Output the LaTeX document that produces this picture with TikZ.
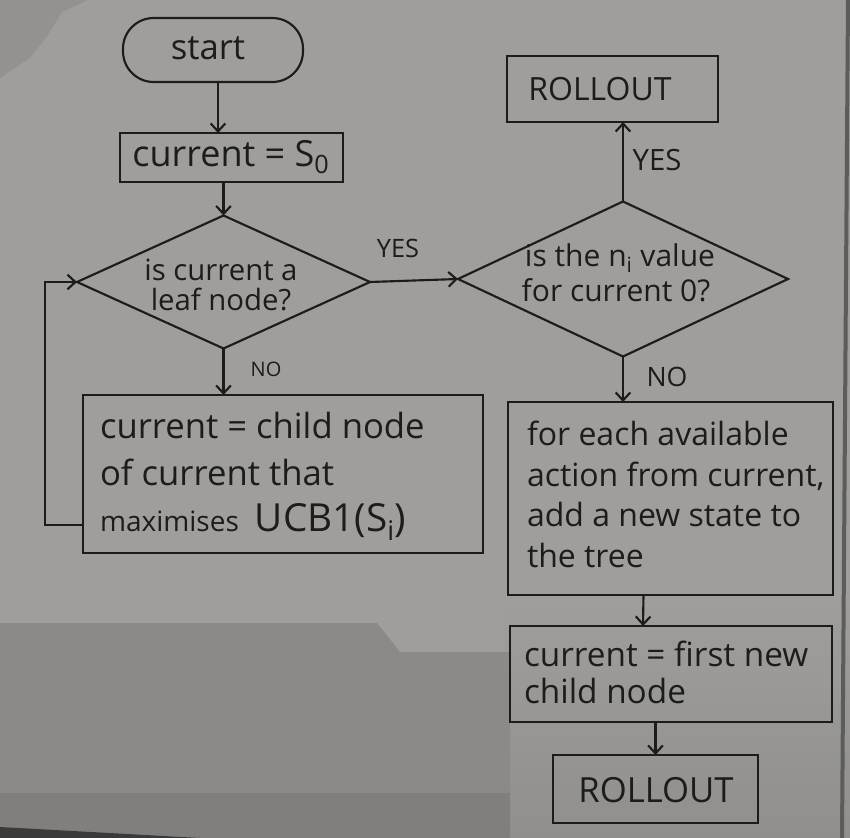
\documentclass[tikz,border=0pt]{standalone}
\usepackage{fontspec}
\setmainfont{Open Sans}
\usetikzlibrary{shapes.geometric,arrows.meta,calc,fit}
\definecolor{board}{HTML}{A09E9A}
\definecolor{boardtl}{HTML}{939290}
\definecolor{boardlow}{HTML}{8B8A88}
\definecolor{boardlower}{HTML}{807F7D}
\definecolor{boardright}{HTML}{908F8C}
\definecolor{frame}{HTML}{3A3A3A}
\definecolor{edge}{HTML}{5C5C5A}
\definecolor{ink}{HTML}{1C1C1C}
\newcommand\myfs[2]{\fontsize{#1}{#2}\selectfont}
\begin{document}
\begin{tikzpicture}[x=0.75pt,y=-0.75pt,
  box/.style={draw=ink,line width=1.6pt,rectangle,inner sep=0pt,outer sep=0pt},
  term/.style={box,rounded corners=23pt},
  dia/.style={draw=ink,line width=1.6pt,diamond,inner sep=0pt,outer sep=0pt},
  txt/.style={text=ink,inner sep=0pt,outer sep=0pt},
  arr/.style={draw=ink,line width=1.6pt,-{Straight Barb[length=6pt,width=11pt]}},
  ]
\useasboundingbox (0,0) rectangle (850,838);
% whiteboard background
\fill[board] (0,0) rectangle (850,838);
\fill[boardtl] (0,0) -- (88,0) -- (62,12) -- (48,35) -- (30,58) -- (0,78) -- cycle;
\shade[top color=board, bottom color=boardright] (505,600) rectangle (850,838);
\fill[boardlow] (0,623) -- (377,623) -- (400,652) -- (510,652) -- (510,838) -- (0,838) -- cycle;
\fill[boardlower] (0,793) rectangle (510,838);
\fill[frame] (0,827) -- (200,838) -- (0,838) -- cycle;
\fill[edge] (846,0) -- (850,0) -- (844,838) -- (840,838) -- cycle;

% nodes
\node[term, fit={(123,18)(303,82)}] (start) {};
\node[txt, font=\myfs{26}{30}] (startt) at (208,48) {start};
\node[box, fit={(120,133)(343,182)}] (cur) {};
\node[txt, font=\myfs{27}{30}] (curt) at (231,157) {current = S\textsubscript{0}};
\node[box, fit={(507,56)(718,122)}] (ro1) {};
\node[txt, font=\myfs{24}{28}] (ro1t) at (600,89) {ROLLOUT};

\node[dia, minimum width=219.75pt, minimum height=99.75pt] (d1) at (223.5,282) {};
\node[txt, align=center, font=\myfs{22}{22.5}] (d1t) at (221,285) {is current a\\ leaf node?};
\node[dia, minimum width=247.5pt, minimum height=116.25pt] (d2) at (623,279) {};
\node[txt, font=\myfs{22.5}{24}] (d2ta) at (620,258) {is the n\textsubscript{i} value};
\node[txt, font=\myfs{22.5}{24}] (d2tb) at (616,290) {for current 0?};

\node[txt, font=\myfs{19}{20}] (yes1) at (398,248) {YES};
\node[txt, font=\myfs{22}{24}] (yes2) at (657,160) {YES};
\node[txt, font=\myfs{15}{18}] (no1) at (266,369) {NO};
\node[txt, font=\myfs{20}{22}] (no2) at (667,377) {NO};

\node[box, fit={(83,395)(483,553)}] (box1) {};
\node[txt, anchor=north west, align=left, font=\myfs{26}{35}] (box1t) at (100,412)
  {current = child node\\ of current that\\ {\myfs{21}{35}maximises}\hspace{12pt}{\myfs{29}{35}UCB1(S\textsubscript{i})}};

\node[box, fit={(508,402)(833,595)}] (box2) {};
\node[txt, anchor=north west, align=left, font=\myfs{24}{30.4}] (box2t) at (527,421)
  {for each available\\ action from current,\\ add a new state to\\ the tree};

\node[box, fit={(510,626)(832,722)}] (box3) {};
\node[txt, anchor=north west, align=left, font=\myfs{25}{27.5}] (box3t) at (524,641)
  {current = first new\\ child node};

\node[box, fit={(553,755)(758,823)}] (ro2) {};
\node[txt, font=\myfs{26}{28}] (ro2t) at (656,790) {ROLLOUT};

% connectors
\draw[arr] ($(start.south)+(5,0)$) -- ($(cur.north)+(-13.5,0)$);
\draw[arr] (d1.north |- cur.south) -- (d1.north);
\draw[arr] (d1.east) -- (d2.west);
\draw[arr] (d2.north) -- (d2.north |- ro1.south);
\draw[arr] (d1.south) -- (d1.south |- box1.north);
\draw[arr] ($(box1.south west)+(0,-28)$) -- ++(-38,0) |- (d1.west);
\draw[arr] (d2.south) -- (d2.south |- box2.north);
\draw[arr] ($(box2.south)+(-27,0)$) -- ($(box3.north)+(-28,0)$);
\draw[arr] (ro2.north |- box3.south) -- (ro2.north);
\end{tikzpicture}
\end{document}
